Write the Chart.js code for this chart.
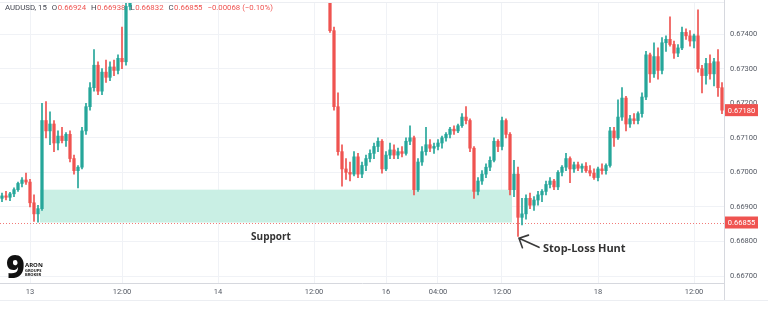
<!DOCTYPE html>
<html>
<head>
<meta charset="utf-8">
<script src="https://cdn.jsdelivr.net/npm/chart.js@4.4.1/dist/chart.umd.min.js"></script>
<style>
  html, body { margin: 0; padding: 0; background: #fff; }
  canvas { display: block; }
</style>
</head>
<body>
<canvas id="chart" width="768" height="309"></canvas>
<script>
// AUDUSD 15 min candles, prices written in 1e-5 units (66924 = 0.66924)
// null = the candle sits above the top of the visible price range
const openP = [
  66925, 66932, 66928, 66938, 66950, 66968, 66978, 66972, 66912, 66880,
  66895, 67150, 67120, 67140, 67085, 67105, 67092, 67110, 67040, 67005,
  67015, 67120, 67190, 67245, 67310, 67235, 67290, 67275, 67305, 67295,
  67330, 67320, 67480,
  null, null, null, null, null, null, null, null, null, null,
  null, null, null, null, null, null, null, null, null, null,
  null, null, null, null, null, null, null, null, null, null,
  null, null, null, null, null, null, null, null, null, null,
  null, null, null, null, null, null, null, null, null,
  67520, 67410, 67190, 67060, 67010, 67000, 66995, 67045,
  66995, 67020, 67040, 67055, 67075, 67090, 67010, 67050, 67065, 67050,
  67060, 67055, 67090, 67100, 66950, 67030, 67060, 67080, 67070, 67075,
  67085, 67100, 67110, 67125, 67120, 67135, 67160, 67150, 67070, 66945,
  66975, 66995, 67015, 67035, 67090, 67075, 67150, 67110, 66950, 66995,
  66870, 66880, 66925, 66905, 66920, 66935, 66945, 66965, 66975, 66958,
  67000, 67015, 67040, 67010, 67022, 67012, 67018, 67005, 66998, 66985,
  67010, 67005, 67020, 67120, 67100, 67160, 67215, 67140, 67155, 67150,
  67170, 67218, 67340, 67285, 67335, 67295, 67375, 67385, 67370, 67345,
  67360, 67405, 67395, 67380, 67395, 67300, 67280, 67315, 67285, 67320, 67245
];
const highP = [
  66940, 66945, 66942, 66955, 66972, 66985, 66998, 66980, 66935, 66905,
  67200, 67205, 67175, 67150, 67120, 67130, 67115, 67120, 67050, 67020,
  67130, 67200, 67260, 67355, 67320, 67300, 67325, 67320, 67325, 67340,
  67420, 67500, 67560,
  null, null, null, null, null, null, null, null, null, null,
  null, null, null, null, null, null, null, null, null, null,
  null, null, null, null, null, null, null, null, null, null,
  null, null, null, null, null, null, null, null, null, null,
  null, null, null, null, null, null, null, null, null,
  67540, 67420, 67230, 67080, 67040, 67030, 67060, 67055,
  67030, 67050, 67065, 67085, 67100, 67095, 67060, 67085, 67080, 67070,
  67075, 67100, 67135, 67105, 67040, 67075, 67130, 67095, 67085, 67095,
  67105, 67115, 67130, 67135, 67140, 67170, 67190, 67155, 67075, 66985,
  67005, 67025, 67045, 67100, 67095, 67160, 67155, 67115, 67035, 67015,
  66925, 66935, 66940, 66930, 66945, 66950, 66975, 66985, 66980, 67005,
  67020, 67055, 67045, 67030, 67030, 67025, 67028, 67020, 67010, 67015,
  67025, 67025, 67130, 67130, 67210, 67245, 67220, 67165, 67170, 67175,
  67230, 67350, 67345, 67375, 67360, 67390, 67395, 67450, 67380, 67370,
  67420, 67415, 67410, 67400, 67470, 67310, 67330, 67340, 67330, 67355, 67260
];
const lowP = [
  66915, 66920, 66918, 66930, 66945, 66958, 66965, 66900, 66858, 66856,
  66890, 67100, 67080, 67060, 67065, 67085, 67075, 67030, 66995, 66955,
  67010, 67110, 67180, 67235, 67225, 67225, 67260, 67265, 67280, 67285,
  67300, 67310, 67470,
  null, null, null, null, null, null, null, null, null, null,
  null, null, null, null, null, null, null, null, null, null,
  null, null, null, null, null, null, null, null, null, null,
  null, null, null, null, null, null, null, null, null, null,
  null, null, null, null, null, null, null, null, null,
  67405, 67180, 67050, 66960, 66980, 66975, 66990, 66985,
  66985, 67005, 67030, 67040, 67060, 66998, 67005, 67040, 67040, 67040,
  67045, 67050, 67080, 66935, 66945, 67020, 67050, 67060, 67055, 67065,
  67070, 67090, 67100, 67110, 67115, 67130, 67140, 67060, 66925, 66935,
  66965, 66985, 67005, 67030, 67060, 67065, 67100, 66935, 66930, 66815,
  66848, 66865, 66895, 66890, 66905, 66915, 66935, 66955, 66950, 66950,
  66990, 67005, 66970, 67000, 67005, 67000, 67000, 66990, 66980, 66975,
  66995, 66995, 67015, 67075, 67095, 67150, 67120, 67130, 67140, 67140,
  67160, 67210, 67260, 67275, 67270, 67285, 67350, 67365, 67330, 67335,
  67355, 67385, 67365, 67360, 67290, 67230, 67255, 67270, 67250, 67220, 67170
];
const closeP = [
  66932, 66928, 66938, 66950, 66968, 66978, 66972, 66912, 66880, 66895,
  67150, 67120, 67140, 67085, 67105, 67092, 67110, 67040, 67005, 67015,
  67120, 67190, 67245, 67310, 67235, 67290, 67275, 67305, 67295, 67330,
  67320, 67480, 67540,
  null, null, null, null, null, null, null, null, null, null,
  null, null, null, null, null, null, null, null, null, null,
  null, null, null, null, null, null, null, null, null, null,
  null, null, null, null, null, null, null, null, null, null,
  null, null, null, null, null, null, null, null, null,
  67410, 67190, 67060, 67010, 67000, 66995, 67045, 66995,
  67020, 67040, 67055, 67075, 67090, 67010, 67050, 67065, 67050, 67060,
  67055, 67090, 67100, 66950, 67030, 67060, 67080, 67070, 67075, 67085,
  67100, 67110, 67125, 67120, 67135, 67160, 67150, 67070, 66945, 66975,
  66995, 67015, 67035, 67090, 67075, 67150, 67110, 66950, 66995, 66870,
  66880, 66925, 66905, 66920, 66935, 66945, 66965, 66975, 66958, 67000,
  67015, 67040, 67010, 67022, 67012, 67018, 67005, 66998, 66985, 67010,
  67005, 67020, 67120, 67100, 67160, 67215, 67140, 67155, 67150, 67170,
  67218, 67340, 67285, 67335, 67295, 67375, 67385, 67370, 67345, 67360,
  67405, 67395, 67380, 67395, 67300, 67280, 67315, 67285, 67320, 67245, 67180
];

// time axis: candle index of each label and its text
const xTickIndex = [7, 30, 54, 78, 96, 109, 125, 149, 173];
const xTickText = ['13', '12:00', '14', '12:00', '16', '04:00', '12:00', '18', '12:00'];
// price axis
const yTicks = [0.667, 0.668, 0.669, 0.670, 0.671, 0.672, 0.673, 0.674];
const yMin = 0.66680, yMax = 0.67490;
const priceTags = [0.67180, 0.66855];
const lastPrice = 0.66855;

// support box: price band and candle span
const supportZone = [0.66855, 0.66950];
const supportFrom = 10, supportTo = 127;
const huntCandle = 129;

const titleParts = ['AUDUSD, 15', 'O', '0.66924', 'H', '0.66938', 'L', '0.66832', 'C', '0.66855', '\u22120.00068 (\u22120.10%)'];

const upColor = '#26a69a';
const downColor = '#ef5350';
const font = 'Roboto, "Open Sans", sans-serif';

const labels = closeP.map((c, i) => i);
const candleColor = closeP.map((c, i) => c >= openP[i] ? upColor : downColor);
const bodies = closeP.map((c, i) => c === null ? null : [openP[i] / 1e5, c / 1e5]);
const wicks = highP.map((h, i) => h === null ? null : [lowP[i] / 1e5, h / 1e5]);

// draws the zone, price line, title, tags and notes on top of the chart
const overlay = {
  id: 'overlay',
  beforeDatasetsDraw(chart) {
    const { ctx, chartArea: a, scales: { x, y } } = chart;
    const half = (x.getPixelForValue(1) - x.getPixelForValue(0)) / 2;
    ctx.save();

    // support zone
    const zx0 = x.getPixelForValue(supportFrom) - half;
    const zx1 = x.getPixelForValue(supportTo) + half;
    const zy0 = y.getPixelForValue(supportZone[1]);
    const zy1 = y.getPixelForValue(supportZone[0]);
    ctx.fillStyle = '#c9efe4';
    ctx.fillRect(zx0, zy0, zx1 - zx0, zy1 - zy0);

    // dotted last price line
    const ly = Math.round(y.getPixelForValue(lastPrice)) + 0.5;
    ctx.strokeStyle = '#f27a78';
    ctx.lineWidth = 1;
    ctx.setLineDash([1, 2]);
    ctx.beginPath();
    ctx.moveTo(a.left, ly);
    ctx.lineTo(a.right, ly);
    ctx.stroke();
    ctx.setLineDash([]);

    // symbol line in the top left
    ctx.font = '7.8px ' + font;
    ctx.textBaseline = 'middle';
    ctx.textAlign = 'left';
    let tx = 5;
    titleParts.forEach((t, i) => {
      const isLetter = t.length === 1;
      ctx.fillStyle = (i === 0 || isLetter) ? '#434651' : '#ef5350';
      ctx.fillText(t, tx, 8);
      tx += ctx.measureText(t).width + (isLetter ? 0.5 : 5);
    });
    ctx.restore();
  },
  afterDraw(chart) {
    const { ctx, chartArea: a, scales: { x, y } } = chart;
    ctx.save();

    // frame lines
    ctx.strokeStyle = '#d6d8de';
    ctx.lineWidth = 1;
    ctx.beginPath();
    ctx.moveTo(Math.round(a.right) + 0.5, 0);
    ctx.lineTo(Math.round(a.right) + 0.5, 300);
    ctx.stroke();
    ctx.strokeStyle = '#eceef2';
    ctx.beginPath();
    ctx.moveTo(0, 300.5);
    ctx.lineTo(768, 300.5);
    ctx.moveTo(0, 2.5);
    ctx.lineTo(a.right, 2.5);
    ctx.stroke();

    // price tags on the axis
    ctx.font = '7.5px ' + font;
    ctx.textBaseline = 'middle';
    ctx.textAlign = 'center';
    priceTags.forEach(v => {
      const py = y.getPixelForValue(v);
      ctx.fillStyle = '#ef5350';
      ctx.fillRect(a.right + 1, py - 6, 33, 12);
      ctx.fillStyle = '#ffffff';
      ctx.fillText(v.toFixed(5), a.right + 17.5, py + 0.5);
    });

    // notes
    ctx.fillStyle = '#333333';
    ctx.font = 'bold 10px "Open Sans", sans-serif';
    ctx.textAlign = 'center';
    ctx.fillText('Support', 271, 237);

    const tipX = x.getPixelForValue(huntCandle) + 1;
    const tipY = y.getPixelForValue(lowP[huntCandle] / 1e5) + 2;
    const tailX = tipX + 20, tailY = tipY + 9;
    const ang = Math.atan2(tailY - tipY, tailX - tipX);
    ctx.strokeStyle = '#3a3a3a';
    ctx.lineWidth = 1.6;
    ctx.lineCap = 'round';
    ctx.beginPath();
    ctx.moveTo(tailX, tailY);
    ctx.lineTo(tipX, tipY);
    ctx.moveTo(tipX + 10 * Math.cos(ang - 0.75), tipY + 10 * Math.sin(ang - 0.75));
    ctx.lineTo(tipX, tipY);
    ctx.lineTo(tipX + 10 * Math.cos(ang + 0.8), tipY + 10 * Math.sin(ang + 0.8));
    ctx.stroke();

    ctx.font = 'bold 11px "Open Sans", sans-serif';
    ctx.textAlign = 'left';
    ctx.fillText('Stop-Loss Hunt', tailX + 4, tailY + 2);

    // logo
    ctx.fillStyle = '#111111';
    ctx.font = '800 32px "Open Sans", sans-serif';
    ctx.textBaseline = 'alphabetic';
    ctx.fillText('9', 6, 278);
    ctx.font = 'bold 6px "Open Sans", sans-serif';
    ctx.fillText('ARON', 25, 267);
    ctx.font = 'bold 4px "Open Sans", sans-serif';
    ctx.fillText('GROUPS', 25, 271.5);
    ctx.fillText('BROKER', 25, 275.5);
    ctx.restore();
  }
};

new Chart(document.getElementById('chart'), {
  type: 'bar',
  data: {
    labels: labels,
    datasets: [
      { data: bodies, backgroundColor: candleColor, barThickness: 2.6, minBarLength: 1, grouped: false, clip: 0 },
      { data: wicks, backgroundColor: candleColor, barThickness: 1, grouped: false, clip: 0 }
    ]
  },
  options: {
    responsive: false,
    animation: false,
    devicePixelRatio: 1,
    layout: { padding: { top: 3, bottom: 9, left: 0, right: 0 } },
    plugins: {
      legend: { display: false },
      tooltip: { enabled: false }
    },
    scales: {
      x: {
        grid: { color: '#f0f2f6', offset: false, drawTicks: false },
        border: { color: '#d6d8de' },
        afterBuildTicks: s => { s.ticks = xTickIndex.map(v => ({ value: v })); },
        afterFit: s => { s.height = 17; s.paddingLeft = 0; s.paddingRight = 0; },
        ticks: {
          autoSkip: false,
          maxRotation: 0,
          padding: 5,
          color: '#555a64',
          font: { family: font, size: 7.5 },
          callback: (v, i) => xTickText[i]
        }
      },
      y: {
        position: 'right',
        min: yMin,
        max: yMax,
        grid: { color: '#f0f2f6', drawTicks: false },
        border: { color: '#d6d8de' },
        afterBuildTicks: s => { s.ticks = yTicks.map(v => ({ value: v })); },
        afterFit: s => { s.width = 44; s.paddingTop = 0; s.paddingBottom = 0; },
        ticks: {
          padding: 6,
          color: '#555a64',
          font: { family: font, size: 7.5 },
          callback: v => v.toFixed(5)
        }
      }
    }
  },
  plugins: [overlay]
});
</script>
</body>
</html>
